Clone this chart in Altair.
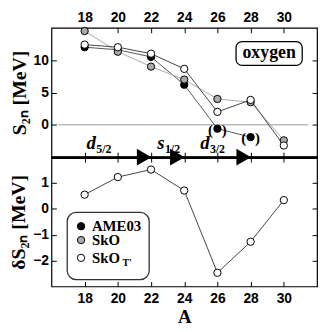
import altair as alt
import pandas as pd

# ---------------- data ----------------
A_vals = [18, 20, 22, 24, 26, 28, 30]
s2n_ame03 = [12.0, 11.6, 10.5, 6.2, -0.6, -1.9]          # A = 18..28
s2n_sko = [14.5, 11.3, 9.0, 7.0, 4.0, 3.5, -2.4]
s2n_skot = [12.4, 12.0, 11.0, 8.65, 2.0, 3.85, -3.2]
delta_s2n = [0.55, 1.23, 1.52, 0.71, -2.47, -1.27, 0.34]
series_names = ["AME03", "SkO", "SkOT'"]
paren_A = [26, 28]
arrow_A = [22, 24, 28]
orbit_letters = ["d", "s", "d"]
orbit_subs = ["5/2", "1/2", "3/2"]
orbit_A = [18.4, 22.6, 25.25]
orbit_S = [-3.8, -3.8, -3.8]
x_ticks = [18, 20, 22, 24, 26, 28, 30]
top_y_ticks = [0, 5, 10]
bot_y_ticks = [-2, -1, 0, 1]
legend_main = ["AME03", "SkO", "SkO"]
legend_sub = ["", "", "T'"]
panel_label = ["oxygen"]

# ---------------- style ----------------
W, H = 269, 131
SERIF = "Liberation Serif"
FILL = {"AME03": "black", "SkO": "#aaaaaa", "SkOT'": "white"}
LINE = {"AME03": "#555555", "SkO": "#aaaaaa", "SkOT'": "#444444"}

rows = []
for name, vals in zip(series_names, [s2n_ame03, s2n_sko, s2n_skot]):
    for a, v in zip(A_vals, vals):
        rows.append({"A": a, "S": v, "series": name})
top_df = pd.DataFrame(rows)
ame_lookup = dict(zip(A_vals, s2n_ame03))
par_df = pd.DataFrame({"A": paren_A, "S": [ame_lookup[a] for a in paren_A],
                       "open": ["("] * len(paren_A), "close": [")"] * len(paren_A)})
arrow_df = pd.DataFrame({"A": arrow_A})
orb_df = pd.DataFrame({"A": orbit_A, "S": orbit_S, "letter": orbit_letters, "sub": orbit_subs})
bot_df = pd.DataFrame({"A": A_vals, "dS": delta_s2n})

xs = alt.Scale(domain=[16, 32], nice=False, zero=False)
yt = alt.Scale(domain=[-5, 15], nice=False, zero=False)
yb = alt.Scale(domain=[-3, 2], nice=False, zero=False)
fill_scale = alt.Scale(domain=series_names, range=[FILL[n] for n in series_names])
line_scale = alt.Scale(domain=series_names, range=[LINE[n] for n in series_names])


def tick_axis(orient, offset, values):
    return alt.Axis(orient=orient, offset=offset, values=values, labels=False,
                    domain=False, ticks=True, tickSize=5, title=None, grid=False)


# ---------------- top panel ----------------
zero_rule = alt.Chart(pd.DataFrame({"v": [0]})).mark_rule(color="#999999", strokeWidth=1).encode(
    x=alt.value(7), x2=alt.value(W - 9), y=alt.YDatum(0, scale=yt, axis=None))

lines_top = alt.Chart(top_df).mark_line(strokeWidth=1).encode(
    x=alt.X("A:Q", scale=xs, axis=alt.Axis(orient="top", values=x_ticks, ticks=False, domain=False,
                                            labelPadding=3, title=None, grid=False)),
    y=alt.Y("S:Q", scale=yt, axis=alt.Axis(orient="left", values=top_y_ticks, ticks=False, domain=False,
                                            labelPadding=3, title="S₂ₙ [MeV]", titlePadding=4, grid=False)),
    color=alt.Color("series:N", scale=line_scale, legend=None),
)

points_top = alt.Chart(top_df).mark_point(shape="circle", filled=True, size=55, stroke="black",
                                          strokeWidth=1, opacity=1).encode(
    x=alt.X("A:Q", scale=xs, axis=tick_axis("bottom", -H, x_ticks)),
    y=alt.Y("S:Q", scale=yt, axis=tick_axis("right", -W, top_y_ticks)),
    fill=alt.Fill("series:N", scale=fill_scale, legend=None),
)

paren_open = alt.Chart(par_df).mark_text(font=SERIF, fontWeight="bold", fontSize=15, dx=-7, dy=1,
                                         color="black").encode(
    x=alt.X("A:Q", scale=xs,
            axis=alt.Axis(orient="top", offset=-H, values=x_ticks, labels=False, domain=True, domainWidth=3,
                          domainColor="black", ticks=True, tickSize=5, title=None, grid=False)),
    y=alt.Y("S:Q", scale=yt, axis=tick_axis("left", -W, top_y_ticks)),
    text="open:N",
)
paren_close = alt.Chart(par_df).mark_text(font=SERIF, fontWeight="bold", fontSize=15, dx=7, dy=1,
                                          color="black").encode(
    x=alt.X("A:Q", scale=xs, axis=None), y=alt.Y("S:Q", scale=yt, axis=None), text="close:N")

triangles = alt.Chart(arrow_df).mark_point(shape="triangle-right", filled=True, size=290, color="black",
                                           opacity=1, xOffset=-7).encode(
    x=alt.X("A:Q", scale=xs, axis=None), y=alt.value(H))

orb_letters_layer = alt.Chart(orb_df).mark_text(font=SERIF, fontWeight="bold", fontStyle="italic",
                                                fontSize=19, align="center", baseline="alphabetic",
                                                color="black").encode(
    x=alt.X("A:Q", scale=xs, axis=None), y=alt.Y("S:Q", scale=yt, axis=None), text="letter:N")

sub_layers = []
for i in range(len(orbit_letters)):
    dx = 5 if orbit_letters[i] == "d" else 4
    sub_layers.append(
        alt.Chart(orb_df.iloc[[i]]).mark_text(font=SERIF, fontWeight="bold", fontSize=12, align="left",
                                              baseline="alphabetic", dx=dx, dy=4, color="black").encode(
            x=alt.X("A:Q", scale=xs, axis=None), y=alt.Y("S:Q", scale=yt, axis=None), text="sub:N"))

label_df = pd.DataFrame({"label": panel_label})
label_box = alt.Chart(label_df).mark_rect(fill="white", stroke="black", strokeWidth=1.3, cornerRadius=6).encode(
    x=alt.value(187), x2=alt.value(254), y=alt.value(14), y2=alt.value(38))
label_text = alt.Chart(label_df).mark_text(font=SERIF, fontWeight="bold", fontSize=18, color="black",
                                           baseline="middle").encode(
    x=alt.value(220.5), y=alt.value(26), text="label:N")

top = alt.layer(zero_rule, lines_top, points_top, paren_open, paren_close, triangles,
                orb_letters_layer, *sub_layers, label_box, label_text).resolve_axis(
    x="independent", y="independent").properties(width=W, height=H)

# ---------------- bottom panel ----------------
line_bot = alt.Chart(bot_df).mark_line(color="#444444", strokeWidth=1).encode(
    x=alt.X("A:Q", scale=xs, axis=alt.Axis(orient="bottom", values=x_ticks, ticks=False, domain=False,
                                            labelPadding=5, title="A", titlePadding=2, titleFontSize=19,
                                            grid=False)),
    y=alt.Y("dS:Q", scale=yb, axis=alt.Axis(orient="left", values=bot_y_ticks, ticks=False, domain=False,
                                             labelPadding=3, title="δS₂ₙ [MeV]", titlePadding=4, grid=False)),
)
points_bot = alt.Chart(bot_df).mark_point(shape="circle", filled=True, size=55, fill="white", stroke="black",
                                          strokeWidth=1, opacity=1).encode(
    x=alt.X("A:Q", scale=xs, axis=tick_axis("top", -H, x_ticks)),
    y=alt.Y("dS:Q", scale=yb, axis=tick_axis("right", -W, bot_y_ticks)),
)
host_bot = alt.Chart(bot_df).mark_point(opacity=0).encode(
    x=alt.X("A:Q", scale=xs, axis=tick_axis("bottom", -H, x_ticks)),
    y=alt.Y("dS:Q", scale=yb, axis=tick_axis("left", -W, bot_y_ticks)),
)

legend_rows_y = [70, 84, 102]
legend_layers = [
    alt.Chart(label_df).mark_rect(fill="white", stroke="#333333", strokeWidth=1.3, cornerRadius=9).encode(
        x=alt.value(16), x2=alt.value(99), y=alt.value(56), y2=alt.value(124))
]
for i, name in enumerate(series_names):
    ldf = pd.DataFrame({"series": [name], "main": [legend_main[i]], "sub": [legend_sub[i]]})
    legend_layers.append(
        alt.Chart(ldf).mark_point(shape="circle", filled=True, size=55, stroke="black", strokeWidth=1,
                                  opacity=1, fill=FILL[name]).encode(
            x=alt.value(30), y=alt.value(legend_rows_y[i])))
    legend_layers.append(
        alt.Chart(ldf).mark_text(font=SERIF, fontWeight="bold", fontSize=15, align="left",
                                 baseline="middle", color="black").encode(
            x=alt.value(41), y=alt.value(legend_rows_y[i]), text="main:N"))
    if legend_sub[i]:
        legend_layers.append(
            alt.Chart(ldf).mark_text(font=SERIF, fontWeight="bold", fontSize=10, align="left",
                                     baseline="middle", color="black", dy=5).encode(
                x=alt.value(72), y=alt.value(legend_rows_y[i]), text="sub:N"))

bottom = alt.layer(line_bot, points_bot, host_bot, *legend_layers).resolve_axis(
    x="independent", y="independent").properties(width=W, height=H)

chart = alt.vconcat(top, bottom, spacing=0, bounds="flush").properties(padding=0).configure_axis(
    labelFont="Liberation Sans", labelFontWeight="bold", labelFontSize=14, labelColor="black",
    titleFont=SERIF, titleFontWeight="bold", titleFontSize=20, titleColor="black",
    tickColor="black", tickWidth=1,
).configure_view(stroke="black", strokeWidth=1.2)

chart.save("out.html", embed_options={"renderer": "svg", "actions": False})
